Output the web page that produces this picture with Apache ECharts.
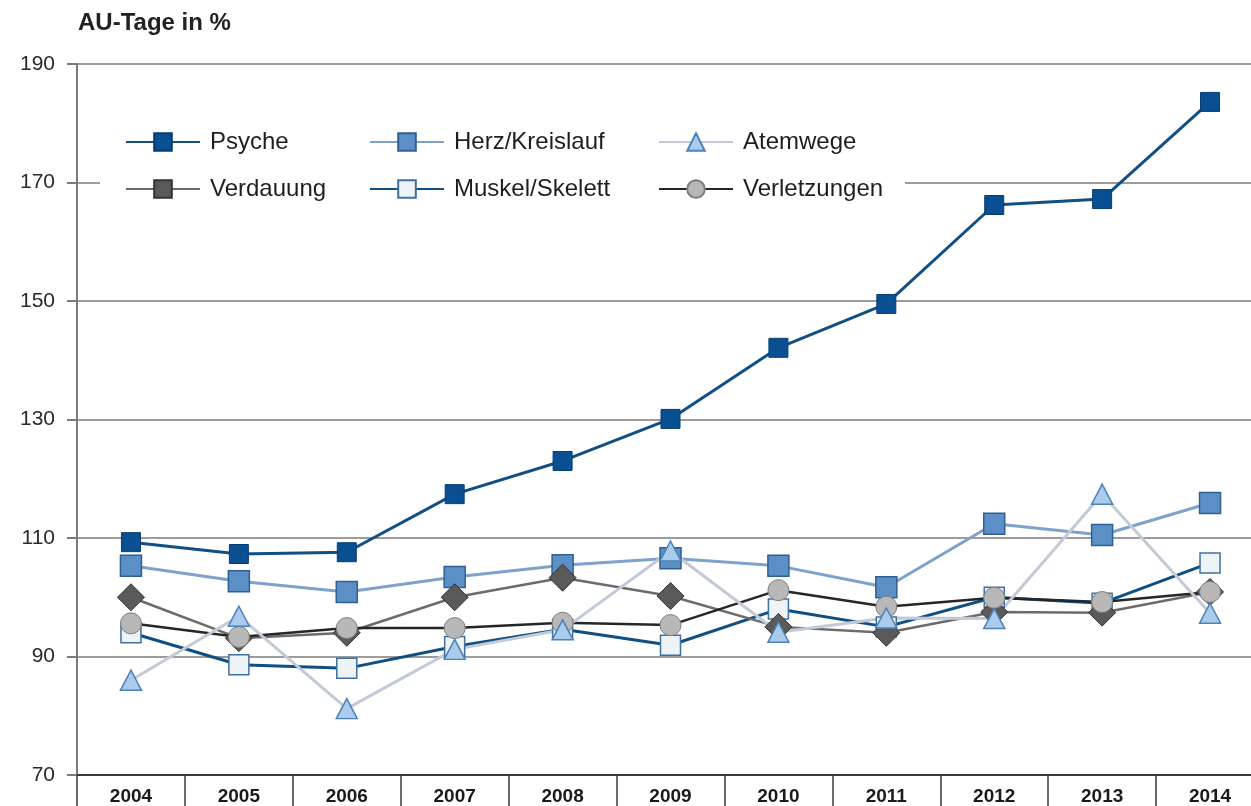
<!DOCTYPE html>
<html>
<head>
<meta charset="utf-8">
<title>AU-Tage in %</title>
<script src="https://cdn.jsdelivr.net/npm/echarts@6/dist/echarts.min.js"></script>
<style>
  html, body { margin: 0; padding: 0; background: #ffffff; overflow: hidden; }
  /* the plot runs a little past the right edge of the page, so 2014 is cut off */
  #chart { width: 1264px; height: 806px; }
</style>
</head>
<body>
<div id="chart"></div>
<script>
// Years on the x axis
const years = ['2004', '2005', '2006', '2007', '2008', '2009', '2010', '2011', '2012', '2013', '2014'];

// AU-Tage relative to the base, in %, per diagnosis group
const psyche        = [109.3, 107.3, 107.6, 117.4, 123.0, 130.1, 142.1, 149.5, 166.2, 167.2, 183.6];
const herzKreislauf = [105.3, 102.7, 100.9, 103.4, 105.4, 106.6, 105.3, 101.7, 112.4, 110.5, 115.9];
const atemwege      = [86.0, 96.8, 81.2, 91.2, 94.5, 107.8, 94.1, 96.5, 96.4, 117.4, 97.3];
const verdauung     = [100.0, 93.1, 94.0, 100.0, 103.3, 100.2, 95.0, 94.0, 97.5, 97.4, 100.9];
const muskelSkelett = [94.0, 88.6, 88.0, 91.7, 94.6, 91.9, 98.0, 95.0, 100.0, 99.0, 105.8];
const verletzungen  = [95.6, 93.3, 94.8, 94.8, 95.7, 95.3, 101.2, 98.4, 99.9, 99.2, 100.9];

// y axis ticks
const yTicks = { min: 70, max: 190, step: 20 };

const chart = echarts.init(document.getElementById('chart'), null, { renderer: 'canvas' });

const FONT = '"Liberation Sans", Arial, Helvetica, sans-serif';

function lineSeries(name, values, opts) {
  return {
    name: name,
    type: 'line',
    data: opts.pointSymbol
      ? values.map(v => ({ value: v, symbol: opts.pointSymbol }))
      : values,
    symbol: opts.symbol,
    symbolSize: opts.symbolSize,
    showAllSymbol: true,
    lineStyle: { color: opts.line, width: opts.lineWidth || 3 },
    itemStyle: {
      color: opts.fill,
      borderColor: opts.border,
      borderWidth: opts.borderWidth || 1.2,
      opacity: 1
    },
    emphasis: { disabled: true },
    z: 2
  };
}

const legendCommon = {
  orient: 'vertical',
  top: 125,
  itemWidth: 74,
  itemHeight: 22,
  itemGap: 23,
  selectedMode: false,
  textStyle: {
    fontFamily: FONT,
    fontSize: 24,
    color: '#1e1e1e',
    padding: [0, 0, 0, 5]
  }
};

const option = {
  animation: false,
  backgroundColor: '#ffffff',
  title: {
    text: 'AU-Tage in %',
    left: 73,
    top: 6,
    textStyle: { fontFamily: FONT, fontSize: 24, fontWeight: 'bold', color: '#222222' }
  },
  // white panel behind the legend, interrupting the grid lines
  graphic: [{
    type: 'rect',
    shape: { x: 100, y: 114, width: 805, height: 96 },
    style: { fill: '#ffffff' },
    z: 1,
    silent: true
  }],
  legend: [
    Object.assign({}, legendCommon, { left: 120, data: ['Psyche', 'Verdauung'] }),
    Object.assign({}, legendCommon, { left: 364, data: ['Herz/Kreislauf', 'Muskel/Skelett'] }),
    Object.assign({}, legendCommon, { left: 653, data: ['Atemwege', 'Verletzungen'] })
  ],
  grid: {
    left: 77,
    top: 64,
    right: 0,
    bottom: 31,
    containLabel: false
  },
  xAxis: {
    type: 'category',
    data: years,
    boundaryGap: true,
    axisLine: { show: true, lineStyle: { color: '#3a3a3a', width: 2 } },
    axisTick: { show: true, alignWithLabel: false, length: 34, lineStyle: { color: '#3a3a3a', width: 1.5 } },
    axisLabel: {
      fontFamily: FONT,
      fontSize: 19,
      fontWeight: 'bold',
      color: '#1a1a1a',
      margin: 12
    },
    splitLine: { show: false }
  },
  yAxis: {
    type: 'value',
    min: yTicks.min,
    max: yTicks.max,
    interval: yTicks.step,
    axisLine: { show: true, lineStyle: { color: '#7a7a7a', width: 2 } },
    axisTick: { show: true, length: 10, lineStyle: { color: '#7a7a7a', width: 2 } },
    axisLabel: {
      fontFamily: FONT,
      fontSize: 21,
      color: '#2a2a2a',
      margin: 22
    },
    splitLine: { show: true, lineStyle: { color: '#9c9c9c', width: 2 } }
  },
  series: [
    lineSeries('Herz/Kreislauf', herzKreislauf, {
      symbol: 'rect', symbolSize: 21, line: '#7ea2c9', fill: '#5d8fc7', border: '#2f6093', borderWidth: 1.5
    }),
    lineSeries('Muskel/Skelett', muskelSkelett, {
      symbol: 'rect', symbolSize: 20, line: '#104f82', fill: '#eef3f8', border: '#3f70a0', borderWidth: 1.5
    }),
    lineSeries('Verdauung', verdauung, {
      symbol: 'rect', pointSymbol: 'diamond', symbolSize: 27, line: '#6b6b6b', fill: '#5a5a5a', border: '#333333',
      lineWidth: 2.5, borderWidth: 1
    }),
    lineSeries('Verletzungen', verletzungen, {
      symbol: 'circle', symbolSize: 21, line: '#262626', fill: '#b8b8b8', border: '#7e7e7e',
      lineWidth: 2.5, borderWidth: 1
    }),
    lineSeries('Atemwege', atemwege, {
      symbol: 'triangle', symbolSize: [21, 20], line: '#c3cad7', fill: '#aacbeb', border: '#4d82b8', borderWidth: 1.5
    }),
    lineSeries('Psyche', psyche, {
      symbol: 'rect', symbolSize: 19, line: '#124f84', fill: '#0a4f91', border: '#063d70', borderWidth: 1
    })
  ]
};

chart.setOption(option);
</script>
</body>
</html>
